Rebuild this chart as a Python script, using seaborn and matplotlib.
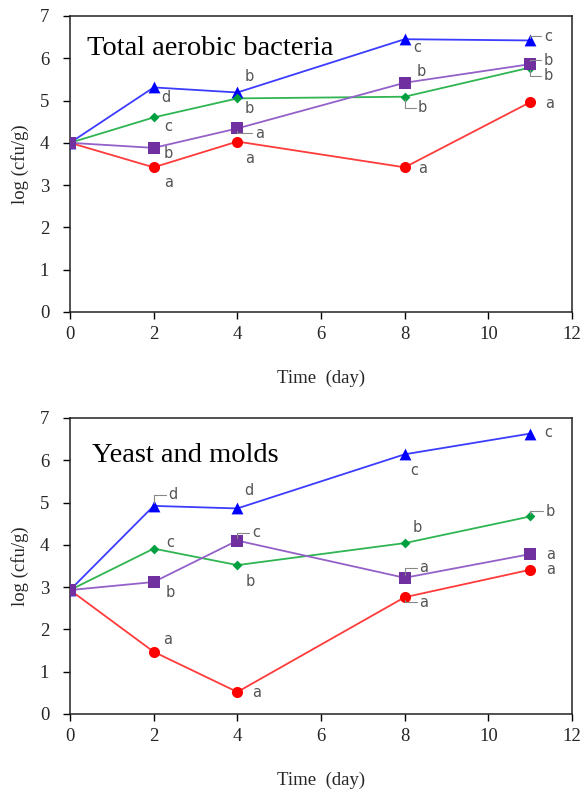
import matplotlib
matplotlib.use("Agg")
import matplotlib.pyplot as plt
import seaborn as sns
import pandas as pd

days = [0, 2, 4, 8, 11]
treatments = ["T1", "T2", "T3", "T4"]

# Total aerobic bacteria
tab_T1 = [4.00, 3.42, 4.03, 3.42, 4.96]   # red circles
tab_T2 = [4.00, 5.31, 5.19, 6.45, 6.42]   # blue triangles
tab_T3 = [4.00, 4.60, 5.05, 5.09, 5.78]   # green diamonds
tab_T4 = [4.00, 3.88, 4.34, 5.42, 5.86]   # purple squares

tab_L1 = ["", "a", "a", "a", "a"]
tab_L2 = ["", "d", "b", "c", "c"]
tab_L3 = ["", "c", "b", "b", "b"]
tab_L4 = ["", "b", "a", "b", "b"]

# Yeast and molds
ym_T1 = [2.93, 1.47, 0.52, 2.76, 3.41]
ym_T2 = [2.93, 4.92, 4.86, 6.14, 6.63]
ym_T3 = [2.93, 3.91, 3.52, 4.04, 4.67]
ym_T4 = [2.93, 3.12, 4.10, 3.22, 3.78]

ym_L1 = ["", "a", "a", "a", "a"]
ym_L2 = ["", "d", "d", "c", "c"]
ym_L3 = ["", "c", "b", "b", "b"]
ym_L4 = ["", "b", "c", "a", "a"]

titles = ["Total aerobic bacteria", "Yeast and molds"]

# styling
line_colors = {"T1": "#ff3b3b", "T2": "#3c3cff", "T3": "#2fb552", "T4": "#9461c9"}
mark_colors = {"T1": "#ff0000", "T2": "#0000ff", "T3": "#00a040", "T4": "#7030a0"}
markers = {"T1": "o", "T2": "^", "T3": "D", "T4": "s"}
msizes = {"T1": 8, "T2": 8.5, "T3": 5, "T4": 8}

# label offsets (pixels) and whether a leader line is drawn
tab_off = {
    "T1": [None, (15, -15, 0), (12, -17, 0), (18, -1, 0), (19, -1, 0)],
    "T2": [None, (12, -10, 0), (12, 16, 0), (13, -8, 0), (18, 4, 1)],
    "T3": [None, (15, -9, 0), (12, -10, 0), (18, -11, 1), (18, -8, 1)],
    "T4": [None, (15, -6, 0), (22, -5, 1), (17, 11, 0), (18, 4, 1)],
}
ym_off = {
    "T1": [None, (14, 12, 0), (19, -1, 0), (19, -5, 1), (20, 0, 0)],
    "T2": [None, (19, 11, 1), (12, 18, 0), (10, -16, 0), (18, 1, 0)],
    "T3": [None, (17, 6, 0), (13, -16, 0), (13, 16, 0), (20, 5, 1)],
    "T4": [None, (17, -10, 0), (19, 8, 1), (19, 10, 1), (20, 0, 0)],
}

panels = [
    ([tab_T1, tab_T2, tab_T3, tab_T4], [tab_L1, tab_L2, tab_L3, tab_L4], tab_off, (0.034, 0.868)),
    ([ym_T1, ym_T2, ym_T3, ym_T4], [ym_L1, ym_L2, ym_L3, ym_L4], ym_off, (0.044, 0.851)),
]

sns.set_style("white")
plt.rcParams["font.family"] = ["Liberation Serif", "DejaVu Serif"]

fig = plt.figure(figsize=(5.84, 7.89), dpi=100)
axes = [fig.add_axes([0.1199, 0.6046, 0.8596, 0.3752]),
        fig.add_axes([0.1199, 0.0951, 0.8596, 0.3752])]

for ax, (series, labels, offs, tpos), title in zip(axes, panels, titles):
    rows = []
    for t, vals in zip(treatments, series):
        for d, v in zip(days, vals):
            rows.append({"day": d, "value": v, "trt": t})
    df = pd.DataFrame(rows)
    sns.lineplot(data=df, x="day", y="value", hue="trt", palette=line_colors,
                 ax=ax, legend=False, linewidth=1.3, estimator=None)
    for t in treatments:
        sub = df[df.trt == t]
        sns.scatterplot(data=sub, x="day", y="value", ax=ax, color=mark_colors[t],
                        marker=markers[t], s=msizes[t] ** 2, edgecolor=mark_colors[t],
                        linewidth=0, legend=False, zorder=3)
    for t, vals, labs in zip(treatments, series, labels):
        for i, (d, v, lab) in enumerate(zip(days, vals, labs)):
            if not lab:
                continue
            dx, dy, lead = offs[t][i]
            ax.annotate(lab, xy=(d, v), xytext=(dx, dy), textcoords="offset pixels",
                        ha="center", va="center", fontsize=10.5, color="#555555",
                        family="DejaVu Sans")
            if lead:
                ax.annotate("", xy=(d, v), xytext=(dx - 7, dy),
                            textcoords="offset pixels",
                            arrowprops=dict(arrowstyle="-", color="#888888", lw=0.8,
                                            shrinkA=0, shrinkB=2,
                                            connectionstyle="angle,angleA=0,angleB=90,rad=0"))
    ax.set_xlim(0, 12)
    ax.set_ylim(0, 7)
    ax.set_xticks(range(0, 13, 2))
    ax.set_yticks(range(0, 8))
    ax.tick_params(direction="out", length=5, width=1, labelsize=13.5, color="black",
                   bottom=True, left=True)
    ax.tick_params(axis="y", pad=10)
    ax.tick_params(axis="x", pad=5)
    for sp in ax.spines.values():
        sp.set_color("#222222")
        sp.set_linewidth(1.1)
    ax.set_xlabel("Time  (day)", fontsize=13.5, labelpad=19)
    ax.set_ylabel("log (cfu/g)", fontsize=13.5, labelpad=8)
    ax.text(tpos[0], tpos[1], title, transform=ax.transAxes, fontsize=20.5,
            ha="left", va="baseline", color="black")

fig.savefig("out.png", dpi=100)
